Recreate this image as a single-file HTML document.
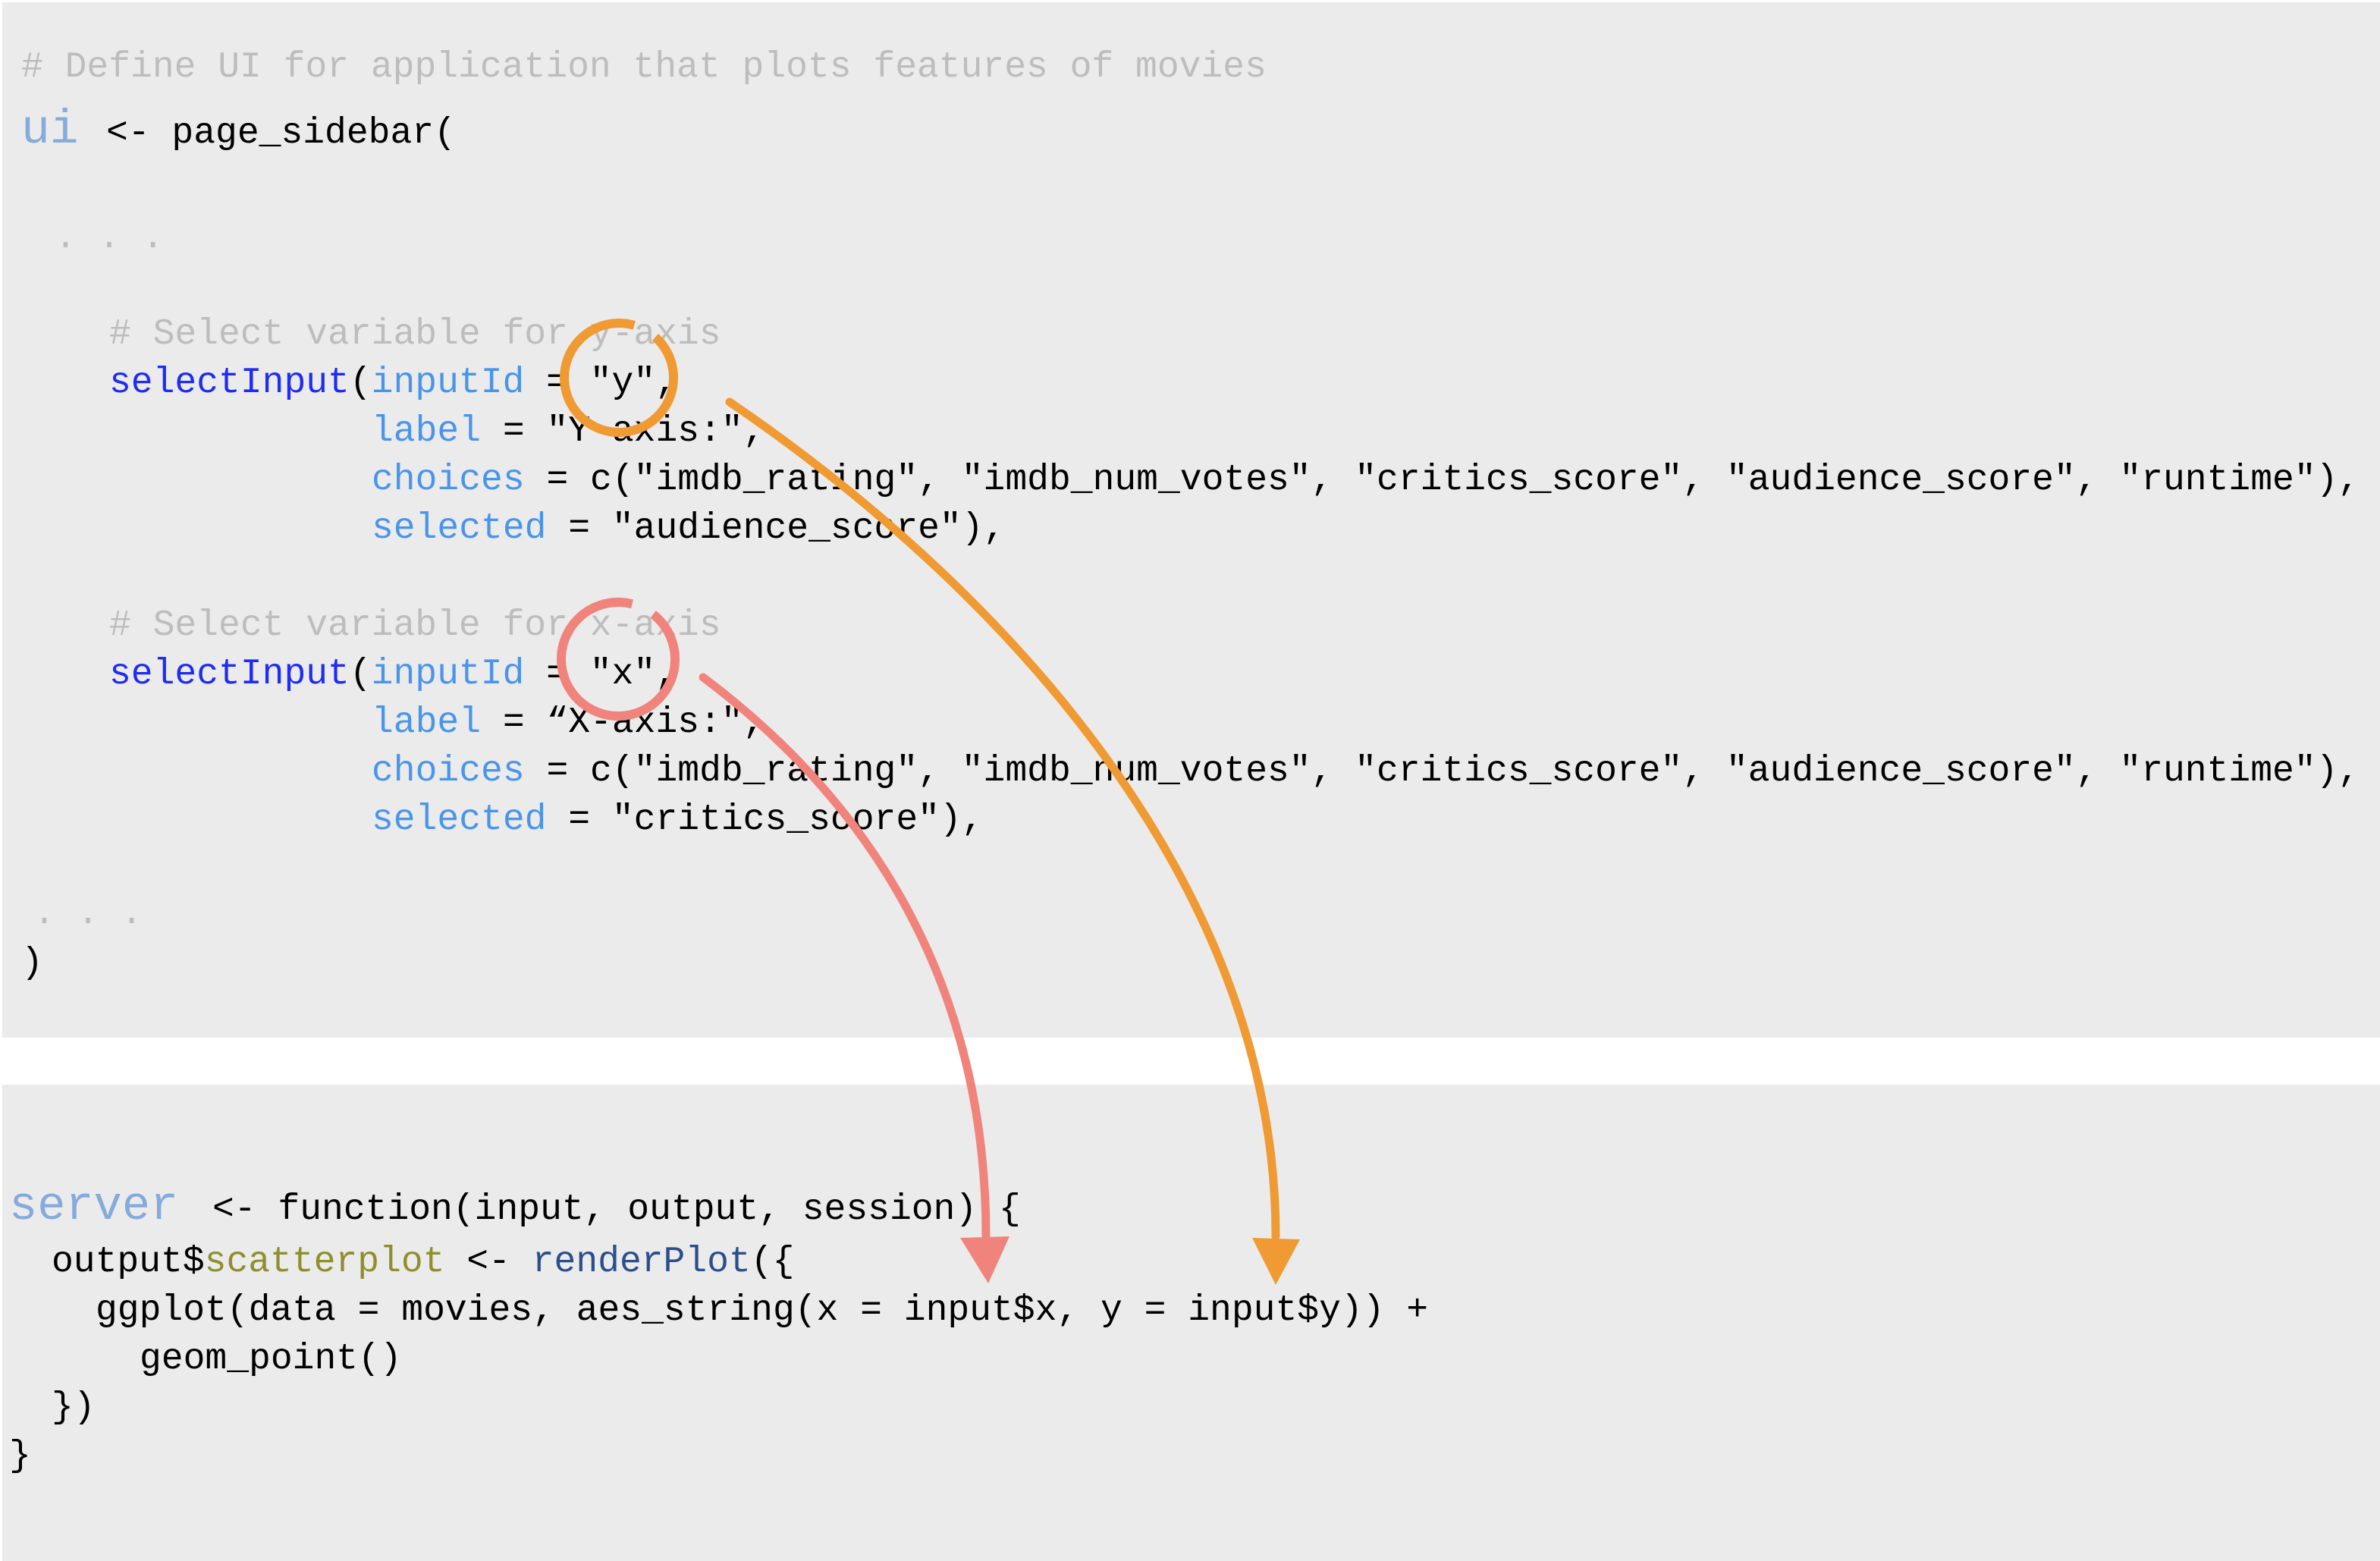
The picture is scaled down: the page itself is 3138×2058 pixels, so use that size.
<!DOCTYPE html>
<html><head><meta charset="utf-8">
<style>
html,body{margin:0;padding:0;background:#fff;}
svg{display:block;}
text{font-family:"Liberation Mono","DejaVu Sans Mono",monospace;font-size:48px;white-space:pre;}
.c{fill:#bdbdbd}
.k{fill:#000}
.b{fill:#1f2cf5}
.a{fill:#4a95ec}
</style></head>
<body>
<svg width="3138" height="2058" viewBox="0 0 3138 2058" xmlns="http://www.w3.org/2000/svg">
<rect x="0" y="0" width="3138" height="2058" fill="#ffffff"/>
<rect x="3" y="3" width="3135" height="1365" fill="#ebebeb"/>
<rect x="3" y="1430" width="3135" height="628" fill="#ebebeb"/>

<text x="28" y="101" class="c"># Define UI for application that plots features of movies</text>
<text x="28" y="188" style="font-size:63px;fill:#86aadc">ui</text>
<text x="140" y="188" class="k">&lt;- page_sidebar(</text>
<text x="72" y="326" class="c">. . .</text>

<text x="144" y="453" class="c"># Select variable for y-axis</text>
<text x="144" y="517"><tspan class="b">selectInput</tspan><tspan class="k">(</tspan><tspan class="a">inputId</tspan><tspan class="k"> = "y",</tspan></text>
<text x="490" y="581"><tspan class="a">label</tspan><tspan class="k"> = "Y-axis:",</tspan></text>
<text x="490" y="645"><tspan class="a">choices</tspan><tspan class="k"> = c("imdb_rating", "imdb_num_votes", "critics_score", "audience_score", "runtime"),</tspan></text>
<text x="490" y="709"><tspan class="a">selected</tspan><tspan class="k"> = "audience_score"),</tspan></text>

<text x="144" y="837" class="c"># Select variable for x-axis</text>
<text x="144" y="901"><tspan class="b">selectInput</tspan><tspan class="k">(</tspan><tspan class="a">inputId</tspan><tspan class="k"> = "x",</tspan></text>
<text x="490" y="965"><tspan class="a">label</tspan><tspan class="k"> = “X-axis:",</tspan></text>
<text x="490" y="1029"><tspan class="a">choices</tspan><tspan class="k"> = c("imdb_rating", "imdb_num_votes", "critics_score", "audience_score", "runtime"),</tspan></text>
<text x="490" y="1093"><tspan class="a">selected</tspan><tspan class="k"> = "critics_score"),</tspan></text>

<text x="44" y="1217" class="c">. . .</text>
<text x="28" y="1282" class="k">)</text>

<text x="12" y="1607" style="font-size:62px;fill:#86aadc">server</text>
<text x="280" y="1607" class="k">&lt;- function(input, output, session) {</text>
<text x="68" y="1676"><tspan class="k">output$</tspan><tspan style="fill:#8f8f2c">scatterplot</tspan><tspan class="k"> &lt;- </tspan><tspan style="fill:#2b4f8c">renderPlot</tspan><tspan class="k">({</tspan></text>
<text x="126" y="1740" class="k">ggplot(data = movies, aes_string(x = input$x, y = input$y)) +</text>
<text x="184" y="1804" class="k">geom_point()</text>
<text x="68" y="1868" class="k">})</text>
<text x="12" y="1932" class="k">}</text>

<!-- orange circle + arrow -->
<circle cx="816" cy="498" r="72" fill="none" stroke="#f09a34" stroke-width="12" stroke-dasharray="420 32" transform="rotate(-48 816 498)"/>
<path d="M 962 530 C 1300 760 1682 1150 1682 1630" fill="none" stroke="#f09a34" stroke-width="11" stroke-linecap="round"/>
<polygon points="1651,1632 1714,1634 1682,1694" fill="#f09a34"/>

<!-- red circle + arrow -->
<circle cx="815" cy="869" r="75" fill="none" stroke="#f0847c" stroke-width="12" stroke-dasharray="440 31" transform="rotate(-52 815 869)"/>
<path d="M 927 893 C 1150 1060 1300 1300 1300 1630" fill="none" stroke="#f0847c" stroke-width="11" stroke-linecap="round"/>
<polygon points="1266,1632 1331,1630 1303,1692" fill="#f0847c"/>
</svg>
</body></html>
